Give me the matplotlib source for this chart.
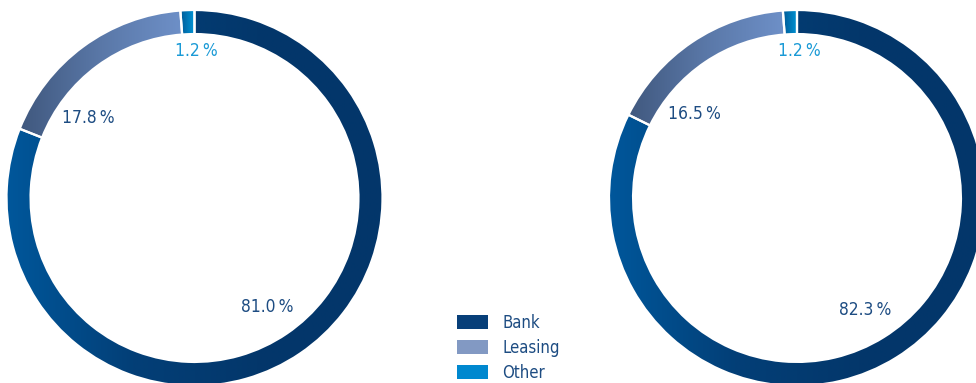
import numpy as np
import matplotlib.pyplot as plt
from matplotlib.colors import LinearSegmentedColormap
from matplotlib.patches import Patch

categories = ['Bank', 'Leasing', 'Other']
left_values = [81.0, 17.8, 1.2]
right_values = [82.3, 16.5, 1.2]

legend_colors = ['#073f79', '#8299c3', '#0088cf']
gradients = [
    ['#00579b', '#033f77', '#03376b', '#03366a'],
    ['#40587e', '#5a78a8', '#6e90c8'],
    ['#005a96', '#0096d8'],
]
label_colors = ['#1d4c82', '#1d4c82', '#1a9ad6']
label_r = [0.69, 0.71, 0.79]
label_nudge = [0.0, 16.0, -3.0]

FONT = ['DejaVu Sans']
RING = 0.128


def draw_donut(ax, values):
    wedges, _ = ax.pie(values, startangle=90, counterclock=False,
                       radius=1.0, wedgeprops=dict(width=RING, linewidth=0))
    for wedge, stops in zip(wedges, gradients):
        ext = wedge.get_path().get_extents()
        cmap = LinearSegmentedColormap.from_list('g', stops)
        grad = np.linspace(0, 1, 256).reshape(1, -1)
        im = ax.imshow(grad, extent=[ext.x0, ext.x1, ext.y0, ext.y1],
                       cmap=cmap, aspect='auto', zorder=2, interpolation='bilinear')
        im.set_clip_path(wedge)
        wedge.set_facecolor(stops[-1])
    # white separators
    sep, _ = ax.pie(values, startangle=90, counterclock=False, radius=1.0,
                    wedgeprops=dict(width=RING, facecolor='none',
                                    edgecolor='white', linewidth=1.6))
    for s in sep:
        s.set_zorder(3)

    total = sum(values)
    start = 90.0
    for v, c, r, nudge in zip(values, label_colors, label_r, label_nudge):
        span = v / total * 360
        mid = np.deg2rad(start - span / 2 + nudge)
        start -= span
        ax.text(r * np.cos(mid), r * np.sin(mid) - 0.01, f'{v:.1f}\u2009%',
                ha='center', va='center', color=c, fontsize=12.5,
                family=FONT, fontstretch='condensed', zorder=4)

    ax.set_xlim(-1, 1)
    ax.set_ylim(-1, 1)
    ax.set_aspect('equal')
    ax.axis('off')


fig = plt.figure(figsize=(9.76, 3.83), dpi=100)
ax1 = fig.add_axes([6.5 / 976, -3 / 383, 376 / 976, 376 / 383])
ax2 = fig.add_axes([609 / 976, -3 / 383, 376 / 976, 376 / 383])
draw_donut(ax1, left_values)
draw_donut(ax2, right_values)

handles = [Patch(facecolor=c, edgecolor='none') for c in legend_colors]
leg = fig.legend(handles, categories, loc='upper left',
                 bbox_to_anchor=(457 / 976, (383 - 314) / 383),
                 frameon=False, borderpad=0, borderaxespad=0,
                 handlelength=1.85, handleheight=0.9, handletextpad=0.85,
                 labelspacing=0.42,
                 prop={'family': FONT, 'size': 12, 'stretch': 'condensed'})
for t in leg.get_texts():
    t.set_color('#1d4c82')

fig.savefig('out.png', dpi=100)
